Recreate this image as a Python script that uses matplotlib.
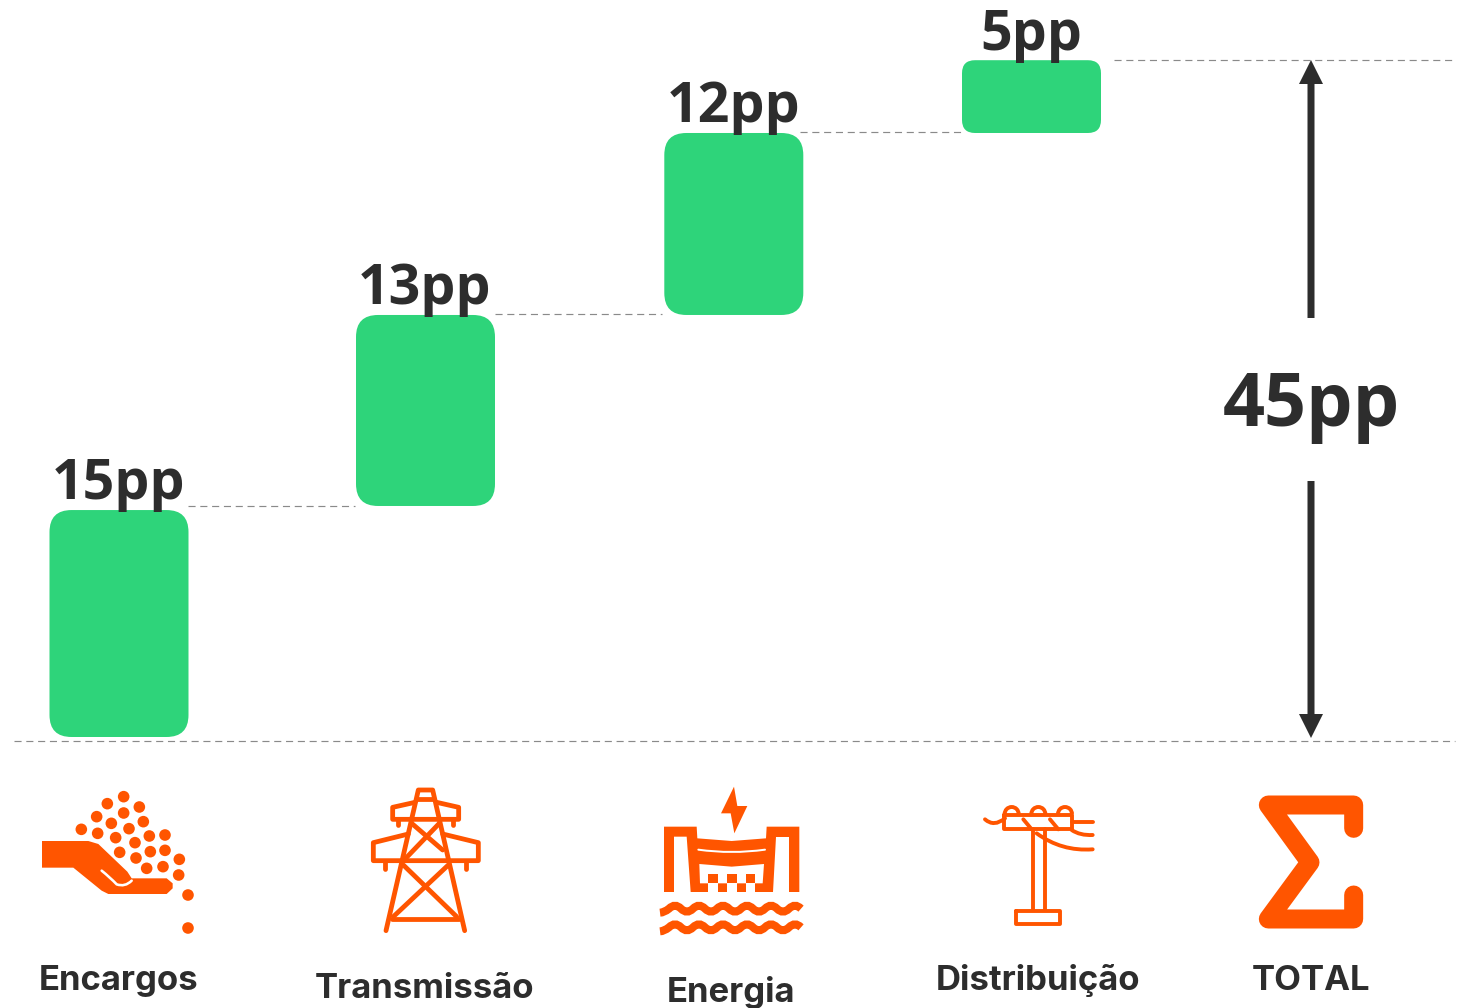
#!/usr/bin/env python
import matplotlib
matplotlib.use('Agg')
import matplotlib.pyplot as plt
from matplotlib.patches import FancyBboxPatch, FancyArrow, Polygon, Circle, PathPatch, Arc
from matplotlib.path import Path

# values
categories = ['Encargos', 'Transmissão', 'Energia', 'Distribuição', 'TOTAL']
bar_labels = ['15pp', '13pp', '12pp', '5pp']
bar_bottoms = [0.0, 15.36, 28.06, 40.16]
bar_tops = [15.09, 28.06, 40.16, 45.0]
total_label = '45pp'
total_value = 45.0

GREEN = '#2ED47A'
ORANGE = '#FF5500'
DARK = '#2D2D2D'
GREY = '#8A8A8A'

W, H = 1471, 1008
PX_PER_PP = 15.04
BASE_PX = 737

fig = plt.figure(figsize=(W / 100, H / 100), dpi=100)
ax = fig.add_axes([0, 0, 1, 1])
ax.set_xlim(0, W)
ax.set_ylim((BASE_PX - H) / PX_PER_PP, BASE_PX / PX_PER_PP)
ax.axis('off')

# overlay in pixel coords, for text and the icons
ov = fig.add_axes([0, 0, 1, 1])
ov.set_xlim(0, W)
ov.set_ylim(H, 0)
ov.axis('off')
ov.patch.set_alpha(0)

bar_x = [119, 425.5, 733.8, 1031.5]
bar_w = 139
bar_r = [22, 22, 22, 13]

for x, b, t, r in zip(bar_x, bar_bottoms, bar_tops, bar_r):
    ax.add_patch(FancyBboxPatch((x - bar_w / 2, b), bar_w, t - b,
                                boxstyle='round,pad=0,rounding_size=%d' % r,
                                mutation_aspect=1 / PX_PER_PP, fc=GREEN, ec='none'))

# dashed connectors
dash = dict(color=GREY, lw=0.85, dashes=(6, 4))
ax.plot([188, 355], [bar_bottoms[1], bar_bottoms[1]], **dash)
ax.plot([495, 662], [bar_bottoms[2] + 0.05, bar_bottoms[2] + 0.05], **dash)
ax.plot([800, 965], [bar_bottoms[3] + 0.05, bar_bottoms[3] + 0.05], **dash)
ax.plot([1114, 1455], [total_value, total_value], **dash)
ax.plot([14, 1455], [-0.27, -0.27], **dash)

# value labels
font_big = ['Open Sans', 'DejaVu Sans']
label_base = [499, 304, 122, 50]
for x, s, y in zip(bar_x, bar_labels, label_base):
    ov.text(x - 0.5, y, s, ha='center', va='baseline', fontsize=40, fontweight='bold',
            color=DARK, family=font_big, zorder=5)
ov.text(1311, 426, total_label, ha='center', va='baseline', fontsize=53, fontweight='bold',
        color=DARK, family=font_big, zorder=5)

# total arrows
ax_x = 1311
ov.add_patch(FancyArrow(ax_x, 318, 0, -258, width=7, head_width=24, head_length=24,
                        length_includes_head=True, fc=DARK, ec='none'))
ov.add_patch(FancyArrow(ax_x, 481, 0, 257, width=7, head_width=24, head_length=24,
                        length_includes_head=True, fc=DARK, ec='none'))

# category labels
cat_x = [118.5, 425, 731, 1038, 1311]
cat_y = [990, 998, 1002, 990, 990]
for x, y, s in zip(cat_x, cat_y, categories):
    ov.text(x, y, s, ha='center', va='baseline', fontsize=25, fontweight='bold',
            color=DARK, family=['Inter', 'DejaVu Sans'])


# icons below, points taken from 3x crops
def z(pts, ox, oy):
    return [(ox + a / 3, oy + b / 3) for a, b in pts]


def stroke(pts, ox, oy, w, color=ORANGE):
    xy = z(pts, ox, oy)
    ov.plot([p[0] for p in xy], [p[1] for p in xy], color=color, lw=w * 0.72,
            solid_capstyle='round', solid_joinstyle='round')


def fill(pts, ox, oy, color=ORANGE):
    ov.add_patch(Polygon(z(pts, ox, oy), closed=True, fc=color, ec='none'))


def curve(pts, ox, oy, w, color=ORANGE, cap='round'):
    # quadratic bezier through start, ctrl, end, ctrl, end...
    xy = z(pts, ox, oy)
    codes = [Path.MOVETO] + [Path.CURVE3] * (len(xy) - 1)
    ov.add_patch(PathPatch(Path(xy, codes), fc='none', ec=color, lw=w * 0.72, capstyle=cap))


# Encargos
ox, oy = 20, 770
seeds = [(311, 80), (262, 101), (358, 111), (311, 129), (230, 140), (274, 160), (370, 155), (184, 178),
         (233, 190), (327, 176), (287, 203), (388, 198), (435, 195), (345, 218), (299, 247), (391, 245),
         (435, 241), (348, 264), (478, 268), (380, 295), (429, 290), (476, 315), (504, 375), (504, 474)]
for p in z(seeds, ox, oy):
    ov.add_patch(Circle(p, 5.8, fc=ORANGE, ec='none'))
fill([(66, 213), (205, 213), (235, 222), (322, 305), (335, 325), (440, 325), (458, 340), (458, 355), (440, 372),
      (265, 372), (245, 362), (160, 293), (66, 293)], ox, oy)
curve([(245, 302), (270, 322), (290, 343), (315, 352), (335, 332)], ox, oy, 2.6, 'white')

# Transmissão
tower = [
    [(1098, 482), (1195, 60), (1238, 60), (1334, 482)],
    [(1190, 88), (1243, 88)],
    [(1185, 97), (1118, 112), (1118, 148), (1316, 148), (1316, 112), (1250, 97)],
    [(1133, 148), (1133, 165)],
    [(1298, 148), (1298, 165)],
    [(1165, 192), (1060, 218), (1060, 272), (1375, 272), (1375, 218), (1268, 192)],
    [(1094, 272), (1094, 298)],
    [(1338, 272), (1338, 298)],
    [(1175, 160), (1268, 240)],
    [(1258, 160), (1160, 262)],
    [(1150, 285), (1310, 440)],
    [(1285, 285), (1120, 440)],
    [(1115, 448), (1318, 448)],
]
for seg in tower:
    stroke(seg, ox, oy, 4.8)

# Energia
ox, oy = 640, 770
fill([(282, 50), (243, 130), (272, 130), (283, 190), (322, 108), (292, 108)], ox, oy)
fill([(72, 170), (170, 170), (172, 205), (275, 213), (378, 205), (380, 170), (478, 170), (478, 366),
      (72, 366)], ox, oy)
fill([(102, 200), (140, 200), (152, 366), (102, 366)], ox, oy, 'white')
fill([(408, 200), (448, 200), (448, 366), (398, 366)], ox, oy, 'white')
fill([(178, 282), (275, 290), (372, 282), (368, 340), (180, 340)], ox, oy, 'white')
for a in [205, 262, 317]:
    fill([(a, 312), (a + 28, 312), (a + 28, 340), (a, 340)], ox, oy)
    fill([(a, 340), (a + 28, 340), (a + 28, 367), (a, 367)], ox, oy, 'white')
curve([(175, 239), (275, 253), (375, 239)], ox, oy, 2, 'white')
wave_ctrl = [105, 141, 177, 213, 249, 285, 321, 357, 393, 429, 465]
for dy in [0, 56]:
    pts = [(60, 428 + dy), (72, 428 + dy), (87, 416 + dy)]
    for i, c in enumerate(wave_ctrl):
        pts += [(c, (398 if i % 2 == 0 else 434) + dy), (c + 18, 416 + dy)]
    curve(pts, ox, oy, 8, cap='butt')

# Distribuição
for seg in [
    [(1092, 135), (1295, 135), (1295, 178), (1092, 178), (1092, 135)],
    [(1150, 148), (1175, 178)],
    [(1230, 148), (1255, 178)],
    [(1178, 178), (1178, 420)],
    [(1215, 178), (1215, 420)],
    [(1128, 422), (1260, 422), (1260, 462), (1128, 462), (1128, 422)],
    [(1295, 155), (1358, 155)],
]:
    stroke(seg, ox, oy, 3.9)
for a in [1115, 1195, 1275]:
    ax_c = z([(a, 132)], ox, oy)[0]
    ov.add_patch(Arc(ax_c, 14, 14, theta1=180, theta2=360, ec=ORANGE, lw=3.9 * 0.72))
curve([(1035, 148), (1062, 172), (1095, 145)], ox, oy, 3.9)
curve([(1295, 180), (1320, 197), (1358, 195)], ox, oy, 3.9)
curve([(1190, 190), (1265, 245), (1358, 238)], ox, oy, 3.9)

# TOTAL sigma
stroke([(461, 385), (461, 315), (205, 315), (330, 487), (205, 657), (461, 657), (461, 585)], 1200, 700, 19)

fig.savefig('out.png', dpi=100, facecolor='white')
